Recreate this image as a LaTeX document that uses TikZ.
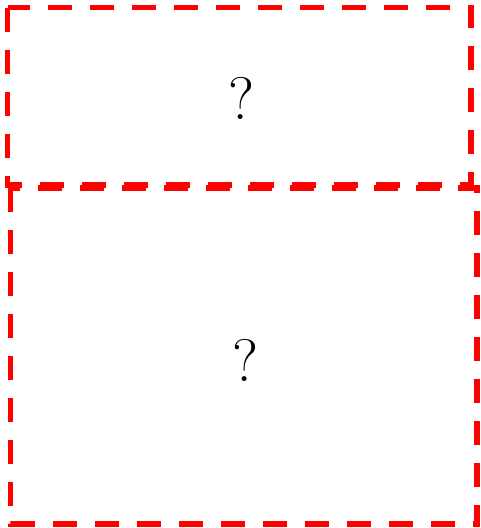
\documentclass[tikz,border=0pt]{standalone}
\begin{document}
\begin{tikzpicture}[x=1pt,y=-1pt,
  redbox/.style={draw=red, line width=5.5pt, dash pattern=on 24pt off 18pt},
  qmark/.style={font=\fontsize{60}{72}\selectfont, inner sep=0pt}]
\useasboundingbox (0,0) rectangle (481,528);
\draw[redbox] (7.5,7.5) -- (7.5,185) -- (471,185) -- (471,7.5) -- cycle;
\draw[redbox] (10.5,188) -- (10.5,524) -- (477,524) -- (477,188) -- cycle;
\node[qmark] (q1) at (241,98) {?};
\node[qmark] (q2) at (245,360) {?};
\end{tikzpicture}
\end{document}
